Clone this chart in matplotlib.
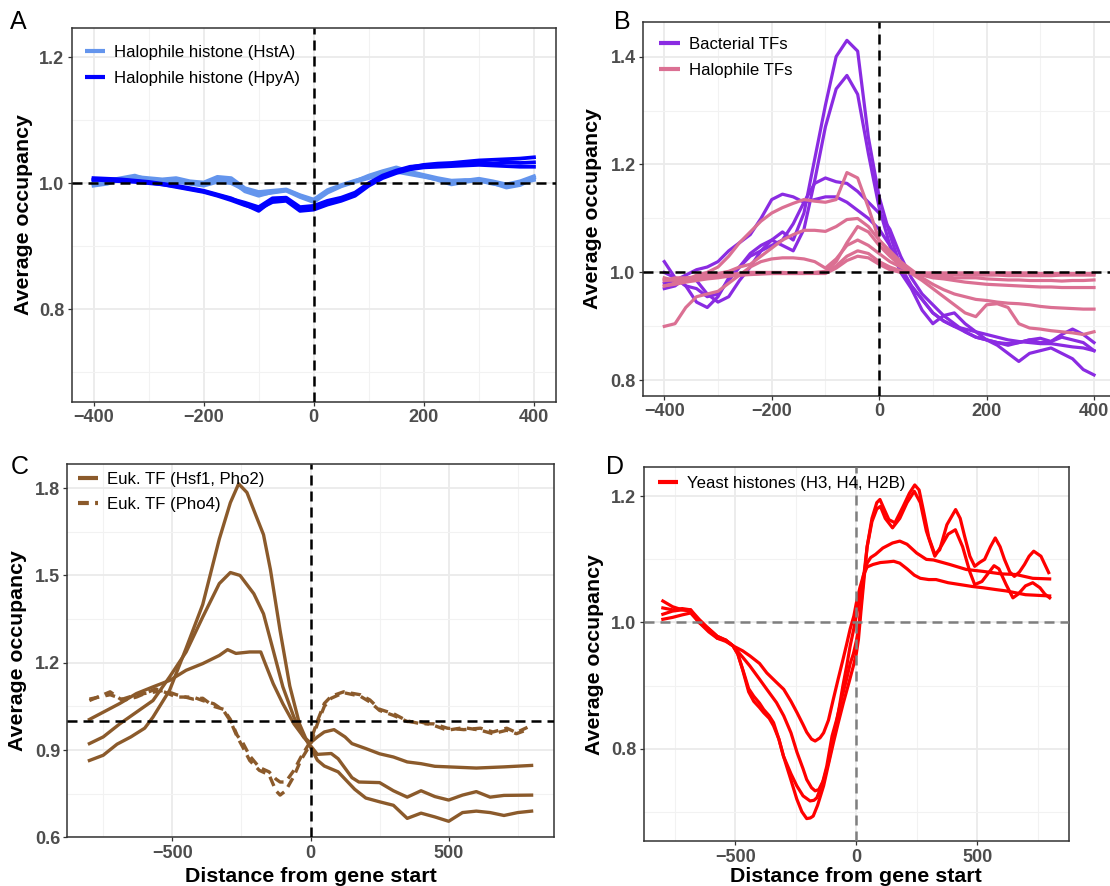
import matplotlib
matplotlib.use('Agg')
import matplotlib.pyplot as plt
from matplotlib.lines import Line2D
from matplotlib.ticker import FormatStrFormatter

plt.rcParams['font.family'] = ['Liberation Sans', 'DejaVu Sans']

# ---------------- data ----------------
# Panel A (x every 25 bp from -400 to 400)
xA = list(range(-400, 401, 25))
hpyA_1 = [1.008, 1.007, 1.006, 1.004, 1.002, 0.999, 0.996, 0.992, 0.988, 0.982, 0.976, 0.966, 0.956, 0.973, 0.975, 0.958, 0.961,
          0.969, 0.974, 0.982, 0.998, 1.010, 1.018, 1.025, 1.029, 1.031, 1.032, 1.034, 1.036, 1.037, 1.038, 1.039, 1.041]
hpyA_2 = [1.005, 1.006, 1.005, 1.003, 1.001, 0.998, 0.995, 0.991, 0.987, 0.981, 0.975, 0.969, 0.962, 0.976, 0.977, 0.962, 0.964,
          0.972, 0.977, 0.985, 1.000, 1.012, 1.020, 1.026, 1.028, 1.029, 1.029, 1.031, 1.032, 1.031, 1.033, 1.032, 1.033]
hpyA_3 = [1.006, 1.004, 1.003, 1.002, 1.000, 0.998, 0.994, 0.990, 0.986, 0.980, 0.973, 0.965, 0.959, 0.970, 0.972, 0.956, 0.958,
          0.966, 0.972, 0.980, 0.996, 1.008, 1.016, 1.022, 1.025, 1.026, 1.027, 1.028, 1.029, 1.028, 1.027, 1.026, 1.026]
hstA_1 = [0.996, 0.999, 1.006, 1.010, 1.008, 1.006, 1.008, 1.003, 1.001, 1.010, 1.008, 0.992, 0.986, 0.988, 0.990, 0.981, 0.974,
          0.989, 0.997, 1.004, 1.010, 1.017, 1.022, 1.016, 1.011, 1.005, 0.998, 1.002, 1.005, 1.000, 0.993, 0.997, 1.008]
hstA_2 = [1.002, 1.004, 1.008, 1.012, 1.005, 1.003, 1.002, 0.999, 0.996, 1.002, 1.000, 0.989, 0.982, 0.985, 0.988, 0.978, 0.970,
          0.985, 0.995, 1.002, 1.008, 1.014, 1.018, 1.014, 1.010, 1.006, 1.002, 1.004, 1.007, 1.003, 0.998, 1.003, 1.011]
hstA_3 = [0.999, 1.002, 1.004, 1.006, 1.006, 1.004, 1.004, 1.000, 0.998, 1.006, 1.004, 0.987, 0.980, 0.986, 0.989, 0.980, 0.972,
          0.987, 0.996, 1.003, 1.012, 1.019, 1.025, 1.018, 1.013, 1.008, 1.004, 1.005, 1.004, 0.999, 0.996, 1.000, 1.005]

# Panel B (x every 20 bp from -400 to 400)
xB = list(range(-400, 401, 20))
bact_1 = [1.02, 0.99, 0.975, 0.97, 0.955, 0.96, 0.985, 1.01, 1.035, 1.05, 1.06, 1.075, 1.06, 1.11, 1.21, 1.31, 1.40, 1.43, 1.41, 1.25,
          1.14, 1.07, 1.01, 0.975, 0.95, 0.925, 0.91, 0.90, 0.89, 0.88, 0.875, 0.87, 0.865, 0.87, 0.875, 0.878, 0.872, 0.88, 0.875, 0.87, 0.855]
bact_2 = [0.97, 0.975, 0.99, 0.985, 0.96, 0.945, 0.955, 0.985, 1.01, 1.04, 1.06, 1.05, 1.04, 1.08, 1.17, 1.27, 1.34, 1.365, 1.33, 1.22,
          1.12, 1.05, 1.00, 0.97, 0.93, 0.905, 0.92, 0.925, 0.905, 0.89, 0.875, 0.865, 0.85, 0.835, 0.85, 0.855, 0.86, 0.85, 0.84, 0.82, 0.81]
bact_3 = [1.00, 0.99, 0.975, 0.945, 0.935, 0.955, 0.99, 1.01, 1.03, 1.04, 1.05, 1.06, 1.09, 1.13, 1.165, 1.175, 1.168, 1.165, 1.15, 1.13,
          1.11, 1.08, 1.03, 0.99, 0.96, 0.94, 0.92, 0.905, 0.89, 0.88, 0.875, 0.87, 0.868, 0.87, 0.875, 0.87, 0.872, 0.885, 0.895, 0.885, 0.87]
bact_4 = [0.98, 0.985, 0.995, 1.005, 1.01, 1.02, 1.04, 1.055, 1.07, 1.10, 1.135, 1.145, 1.14, 1.13, 1.135, 1.14, 1.14, 1.13, 1.115, 1.10,
          1.08, 1.05, 1.01, 0.975, 0.95, 0.925, 0.91, 0.90, 0.895, 0.89, 0.885, 0.88, 0.875, 0.872, 0.87, 0.868, 0.868, 0.865, 0.862, 0.86, 0.855]
halo_1 = [0.975, 0.98, 0.985, 0.995, 1.0, 1.01, 1.03, 1.055, 1.075, 1.095, 1.11, 1.12, 1.128, 1.135, 1.132, 1.13, 1.135, 1.185, 1.175, 1.12,
          1.06, 1.035, 1.015, 0.998, 0.985, 0.97, 0.955, 0.94, 0.925, 0.918, 0.94, 0.942, 0.935, 0.905, 0.897, 0.895, 0.892, 0.89, 0.888, 0.885, 0.89]
halo_2 = [0.985, 0.99, 0.99, 0.992, 0.995, 0.998, 1.002, 1.01, 1.015, 1.03, 1.045, 1.06, 1.07, 1.078, 1.078, 1.076, 1.085, 1.098, 1.10, 1.085,
          1.06, 1.04, 1.02, 1.005, 0.99, 0.978, 0.968, 0.96, 0.955, 0.95, 0.948, 0.945, 0.943, 0.942, 0.94, 0.937, 0.935, 0.934, 0.933, 0.932, 0.932]
halo_3 = [0.99, 0.985, 0.988, 0.99, 0.992, 0.994, 0.996, 0.998, 1.0, 1.0, 1.0, 1.0, 0.999, 0.999, 1.0, 1.002, 1.02, 1.055, 1.085, 1.075,
          1.05, 1.03, 1.012, 1.0, 0.995, 0.99, 0.988, 0.985, 0.982, 0.98, 0.978, 0.977, 0.976, 0.975, 0.974, 0.973, 0.973, 0.972, 0.972, 0.972, 0.972]
halo_4 = [0.90, 0.905, 0.935, 0.955, 0.96, 0.965, 0.98, 0.995, 1.01, 1.02, 1.025, 1.027, 1.027, 1.025, 1.02, 1.008, 1.025, 1.05, 1.06, 1.05,
          1.035, 1.02, 1.01, 1.0, 0.995, 0.993, 0.992, 0.99, 0.99, 0.99, 0.988, 0.987, 0.986, 0.986, 0.985, 0.985, 0.985, 0.984, 0.985, 0.985, 0.986]
halo_5 = [0.975, 0.978, 0.982, 0.985, 0.988, 0.99, 0.993, 0.995, 0.997, 0.998, 0.998, 0.998, 0.998, 0.998, 0.999, 1.0, 1.012, 1.03, 1.04, 1.035,
          1.02, 1.01, 1.003, 1.0, 0.998, 0.997, 0.996, 0.996, 0.995, 0.995, 0.995, 0.995, 0.994, 0.994, 0.994, 0.994, 0.994, 0.995, 0.995, 0.995, 0.995]
halo_6 = [0.985, 0.986, 0.988, 0.99, 0.992, 0.993, 0.994, 0.995, 0.996, 0.997, 0.998, 0.998, 0.998, 0.998, 0.998, 0.998, 1.008, 1.022, 1.03, 1.027,
          1.015, 1.005, 1.0, 0.999, 0.999, 0.999, 0.999, 0.999, 0.999, 0.999, 0.999, 0.999, 0.999, 0.999, 0.999, 0.998, 0.998, 0.998, 0.998, 0.998, 0.998]

# Panel C
hsf_1_x = [-800, -750, -700, -650, -600, -570, -510, -450, -390, -330, -290, -260, -230, -195, -170, -145, -110, -75, -40, -15,
           0, 25, 50, 100, 160, 200, 250, 300, 350, 400, 450, 500, 550, 600, 650, 700, 750, 800]
hsf_1_y = [0.864, 0.882, 0.92, 0.945, 0.975, 1.013, 1.105, 1.25, 1.40, 1.625, 1.75, 1.815, 1.785, 1.70, 1.64, 1.52, 1.31, 1.12, 0.99, 0.935,
           0.91, 0.865, 0.845, 0.825, 0.765, 0.735, 0.722, 0.71, 0.665, 0.683, 0.67, 0.655, 0.685, 0.69, 0.685, 0.675, 0.685, 0.69]
hsf_2_x = [-800, -750, -690, -630, -570, -510, -450, -390, -330, -290, -255, -205, -170, -135, -100, -60, -25, 0,
           25, 75, 100, 150, 175, 250, 300, 350, 400, 450, 500, 550, 600, 650, 700, 800]
hsf_2_y = [0.922, 0.945, 0.99, 1.03, 1.07, 1.151, 1.237, 1.357, 1.472, 1.51, 1.50, 1.437, 1.368, 1.243, 1.117, 1.013, 0.945, 0.915,
           0.885, 0.888, 0.87, 0.805, 0.79, 0.788, 0.76, 0.738, 0.76, 0.74, 0.728, 0.745, 0.757, 0.738, 0.744, 0.745]
hsf_3_x = [-800, -750, -690, -630, -570, -510, -450, -390, -330, -300, -270, -220, -180, -165, -135, -100, -60, -25, 0,
           25, 50, 85, 125, 150, 200, 250, 300, 350, 400, 450, 500, 600, 700, 800]
hsf_3_y = [1.005, 1.03, 1.06, 1.094, 1.117, 1.139, 1.174, 1.197, 1.225, 1.245, 1.232, 1.237, 1.237, 1.20, 1.128, 1.059, 0.99, 0.945, 0.925,
           0.945, 0.962, 0.97, 0.945, 0.922, 0.905, 0.887, 0.876, 0.859, 0.853, 0.844, 0.842, 0.838, 0.842, 0.847]
pho4_x = [-800, -725, -680, -630, -560, -530, -485, -425, -390, -350, -315, -290, -265, -245, -220, -185, -150, -125, -110, -90,
          -60, -35, 0, 25, 50, 75, 120, 180, 215, 250, 300, 350, 400, 445, 495, 555, 615, 660, 710, 745, 785]
pho4_1 = [1.07, 1.10, 1.07, 1.082, 1.11, 1.10, 1.082, 1.082, 1.07, 1.059, 1.036, 1.0, 0.945, 0.91, 0.864, 0.83, 0.815, 0.76, 0.745, 0.76,
          0.81, 0.865, 0.92, 0.99, 1.05, 1.078, 1.097, 1.085, 1.065, 1.036, 1.019, 0.998, 0.996, 0.985, 0.968, 0.977, 0.968, 0.956, 0.968, 0.956, 0.97]
pho4_2 = [1.075, 1.09, 1.075, 1.09, 1.10, 1.105, 1.09, 1.075, 1.078, 1.05, 1.04, 1.005, 0.95, 0.925, 0.88, 0.84, 0.825, 0.80, 0.79, 0.79,
          0.83, 0.875, 0.93, 1.0, 1.06, 1.085, 1.10, 1.09, 1.072, 1.04, 1.025, 1.0, 0.99, 0.99, 0.975, 0.97, 0.975, 0.962, 0.975, 0.96, 0.978]

# Panel D
yeast_1_x = [-800, -760, -720, -685, -650, -610, -575, -540, -510, -470, -440, -400, -370, -330, -300, -270, -245, -220, -205, -185,
             -170, -150, -135, -115, -95, -75, -55, -40, -25, -10, 0, 15, 30, 45, 70, 100, 130, 155, 180, 210,
             240, 265, 300, 330, 380, 430, 480, 525, 580, 620, 660, 700, 750, 800]
yeast_1_y = [1.005, 1.008, 1.012, 1.015, 1.0, 0.99, 0.978, 0.972, 0.963, 0.955, 0.947, 0.935, 0.92, 0.905, 0.894, 0.875, 0.857, 0.838, 0.826, 0.815,
             0.812, 0.817, 0.825, 0.845, 0.878, 0.91, 0.941, 0.965, 0.99, 1.01, 1.03, 1.055, 1.075, 1.088, 1.092, 1.095, 1.096, 1.097, 1.094, 1.085,
             1.075, 1.07, 1.068, 1.068, 1.063, 1.06, 1.057, 1.055, 1.052, 1.05, 1.047, 1.044, 1.043, 1.042]
yeast_2_x = [-800, -760, -720, -685, -650, -610, -575, -540, -510, -470, -440, -400, -370, -330, -300, -270, -245, -220, -205, -185,
             -170, -155, -135, -115, -95, -75, -55, -40, -25, -10, 0, 15, 30, 45, 60, 80, 110, 150, 180, 210,
             250, 290, 320, 386, 455, 524, 600, 661, 730, 800]
yeast_2_y = [1.013, 1.018, 1.02, 1.02, 1.005, 0.99, 0.978, 0.972, 0.963, 0.945, 0.931, 0.91, 0.894, 0.873, 0.852, 0.825, 0.794, 0.768, 0.751, 0.738,
             0.733, 0.735, 0.75, 0.778, 0.815, 0.855, 0.9, 0.93, 0.963, 0.99, 1.01, 1.04, 1.075, 1.094, 1.103, 1.108, 1.118, 1.126, 1.129, 1.124,
             1.11, 1.1, 1.099, 1.092, 1.084, 1.081, 1.077, 1.076, 1.07, 1.069]
yeast_3_x = [-800, -760, -720, -685, -650, -610, -575, -540, -510, -490, -470, -445, -424, -400, -383, -360, -342, -320, -301, -270,
             -246, -220, -191, -175, -163, -140, -122, -100, -81, -60, -40, -25, -12, 0, 10, 20, 30, 45, 65, 85,
             100, 120, 150, 180, 210, 240, 265, 290, 325, 350, 380, 410, 440, 470, 490, 520, 550, 570, 590, 620,
             648, 670, 700, 730, 760, 780, 800]
yeast_3_y = [1.023, 1.02, 1.022, 1.02, 1.0, 0.988, 0.975, 0.972, 0.963, 0.95, 0.925, 0.89, 0.875, 0.865, 0.857, 0.848, 0.836, 0.815, 0.788, 0.76,
             0.741, 0.725, 0.717, 0.718, 0.722, 0.745, 0.772, 0.82, 0.846, 0.88, 0.91, 0.935, 0.95, 0.97, 0.99, 1.03, 1.07, 1.12, 1.16, 1.18,
             1.184, 1.165, 1.15, 1.165, 1.19, 1.208, 1.19, 1.145, 1.105, 1.12, 1.14, 1.147, 1.12, 1.08, 1.06, 1.065, 1.08, 1.09, 1.085, 1.06,
             1.039, 1.045, 1.058, 1.063, 1.055, 1.045, 1.039]
yeast_4_x = [-800, -760, -720, -685, -650, -610, -575, -540, -510, -490, -465, -445, -424, -400, -383, -360, -342, -320, -301, -270,
             -246, -225, -205, -190, -178, -160, -135, -115, -94, -75, -53, -30, -12, 0, 9, 20, 30, 45, 65, 85,
             98, 115, 135, 160, 194, 220, 242, 260, 277, 300, 325, 345, 375, 411, 430, 448, 470, 490, 510, 531,
             555, 575, 595, 613, 635, 654, 675, 696, 715, 734, 764, 796]
yeast_4_y = [1.034, 1.025, 1.02, 1.018, 1.0, 0.985, 0.975, 0.97, 0.963, 0.95, 0.92, 0.895, 0.883, 0.872, 0.862, 0.852, 0.841, 0.815, 0.788, 0.75,
             0.72, 0.70, 0.689, 0.69, 0.693, 0.71, 0.741, 0.775, 0.81, 0.84, 0.873, 0.905, 0.931, 0.95, 0.973, 1.02, 1.06, 1.12, 1.165, 1.19,
             1.195, 1.18, 1.163, 1.158, 1.184, 1.205, 1.218, 1.21, 1.179, 1.135, 1.108, 1.115, 1.155, 1.179, 1.165, 1.137, 1.105, 1.089, 1.095, 1.10,
             1.12, 1.134, 1.12, 1.10, 1.08, 1.073, 1.08, 1.092, 1.105, 1.113, 1.105, 1.079]

# labels / colours
lab_A = ['Halophile histone (HstA)', 'Halophile histone (HpyA)']
lab_B = ['Bacterial TFs', 'Halophile TFs']
lab_C = ['Euk. TF (Hsf1, Pho2)', 'Euk. TF (Pho4)']
lab_D = ['Yeast histones (H3, H4, H2B)']
c_hst, c_hpy = '#6495ED', '#0000FF'
c_bact, c_halo = '#8A2BE2', '#DB7093'
c_euk = '#8B5A2B'
c_yeast = '#FF0000'
ylab = 'Average occupancy'
xlab = 'Distance from gene start'

# ---------------- layout ----------------
W, H = 1110, 886
fig = plt.figure(figsize=(W / 100, H / 100), dpi=100)


def add_axes(l, r, t, b):
    return fig.add_axes([l / W, 1 - b / H, (r - l) / W, (b - t) / H])


axA = add_axes(71.5, 556, 28, 402)
axB = add_axes(642.8, 1115.5, 22, 396)
axC = add_axes(67.3, 553.7, 463.7, 837.3)
axD = add_axes(643.5, 1069, 467.3, 841.3)


def style(ax, xlim, ylim, xmaj, xmin, ymaj, ymin, refcolor):
    ax.set_xlim(*xlim)
    ax.set_ylim(*ylim)
    ax.set_xticks(xmaj)
    ax.set_xticks(xmin, minor=True)
    ax.set_yticks(ymaj)
    ax.set_yticks(ymin, minor=True)
    ax.yaxis.set_major_formatter(FormatStrFormatter('%.1f'))
    ax.grid(which='major', color='#EBEBEB', lw=1.3)
    ax.grid(which='minor', color='#F2F2F2', lw=0.8)
    ax.set_axisbelow(True)
    for s in ax.spines.values():
        s.set_color('#333333')
        s.set_linewidth(1.1)
    ax.tick_params(which='major', length=2.75, width=0.9, color='#333333', labelcolor='#4D4D4D',
                   labelsize=13, pad=2.5)
    ax.tick_params(which='minor', length=0)
    for lab in ax.get_xticklabels() + ax.get_yticklabels():
        lab.set_fontweight('bold')
    ax.axhline(1.0, color=refcolor, lw=1.8, ls=(0, (4, 2.4)), zorder=4)
    ax.axvline(0, color=refcolor, lw=1.8, ls=(0, (4, 2.4)), zorder=4)


style(axA, (-440, 440), (0.653, 1.246), [-400, -200, 0, 200, 400], [-300, -100, 100, 300],
      [0.8, 1.0, 1.2], [0.7, 0.9, 1.1], 'black')
style(axB, (-440, 440), (0.771, 1.464), [-400, -200, 0, 200, 400], [-300, -100, 100, 300],
      [0.8, 1.0, 1.2, 1.4], [0.9, 1.1, 1.3], 'black')
style(axC, (-880, 880), (0.6, 1.884), [-500, 0, 500], [-750, -250, 250, 750],
      [0.6, 0.9, 1.2, 1.5, 1.8], [0.75, 1.05, 1.35, 1.65], 'black')
style(axD, (-880, 880), (0.653, 1.246), [-500, 0, 500], [-750, -250, 250, 750],
      [0.8, 1.0, 1.2], [0.7, 0.9, 1.1], '#7F7F7F')

# ---------------- lines ----------------
for y in (hstA_1, hstA_2, hstA_3):
    axA.plot(xA, y, color=c_hst, lw=2.7, solid_joinstyle='round')
for y in (hpyA_1, hpyA_2, hpyA_3):
    axA.plot(xA, y, color=c_hpy, lw=2.7, solid_joinstyle='round')

for y in (bact_1, bact_2, bact_3, bact_4):
    axB.plot(xB, y, color=c_bact, lw=2.3, solid_joinstyle='round')
for y in (halo_1, halo_2, halo_3, halo_4, halo_5, halo_6):
    axB.plot(xB, y, color=c_halo, lw=2.3, solid_joinstyle='round')

for xs, ys in ((hsf_1_x, hsf_1_y), (hsf_2_x, hsf_2_y), (hsf_3_x, hsf_3_y)):
    axC.plot(xs, ys, color=c_euk, lw=2.4, solid_joinstyle='round')
for ys in (pho4_1, pho4_2):
    axC.plot(pho4_x, ys, color=c_euk, lw=2.4, ls=(0, (3.0, 1.9)))

for xs, ys in ((yeast_1_x, yeast_1_y), (yeast_2_x, yeast_2_y), (yeast_3_x, yeast_3_y), (yeast_4_x, yeast_4_y)):
    axD.plot(xs, ys, color=c_yeast, lw=2.3, solid_joinstyle='round')

# ---------------- legends ----------------
leg_kw = dict(frameon=False, borderpad=0, handlelength=1.2, handletextpad=0.55, labelspacing=0.64,
              fontsize=12.1, loc='upper left', borderaxespad=0)


def key(color, ls='-'):
    return Line2D([], [], color=color, lw=3, ls=ls, solid_capstyle='butt', dash_capstyle='butt')


axA.legend([key(c_hst), key(c_hpy)], lab_A, bbox_to_anchor=(0.028, 0.955), **leg_kw)
axB.legend([key(c_bact), key(c_halo)], lab_B, bbox_to_anchor=(0.035, 0.960), **leg_kw)
axC.legend([key(c_euk), key(c_euk, (0, (2.6, 1.5)))], lab_C, bbox_to_anchor=(0.022, 0.979), **leg_kw)
axD.legend([key(c_yeast)], lab_D, bbox_to_anchor=(0.033, 0.977), **leg_kw)

# ---------------- titles / panel letters ----------------
for x, y in ((23.9, 215), (593, 209), (17.7, 650.5), (594.4, 654.3)):
    fig.text(x / W, 1 - y / H, ylab, rotation=90, ha='center', va='center', fontsize=15.3, fontweight='bold')
for x in (310.5, 856.2):
    fig.text(x / W, 1 - 882.5 / H, xlab, ha='center', va='baseline', fontsize=15.4, fontweight='bold')
for x, y, t in ((10, 29.3, 'A'), (614.5, 29.3, 'B'), (10.6, 473.7, 'C'), (606.3, 473.7, 'D')):
    fig.text(x / W, 1 - y / H, t, ha='left', va='baseline', fontsize=18)

fig.savefig('out.png', dpi=100)
